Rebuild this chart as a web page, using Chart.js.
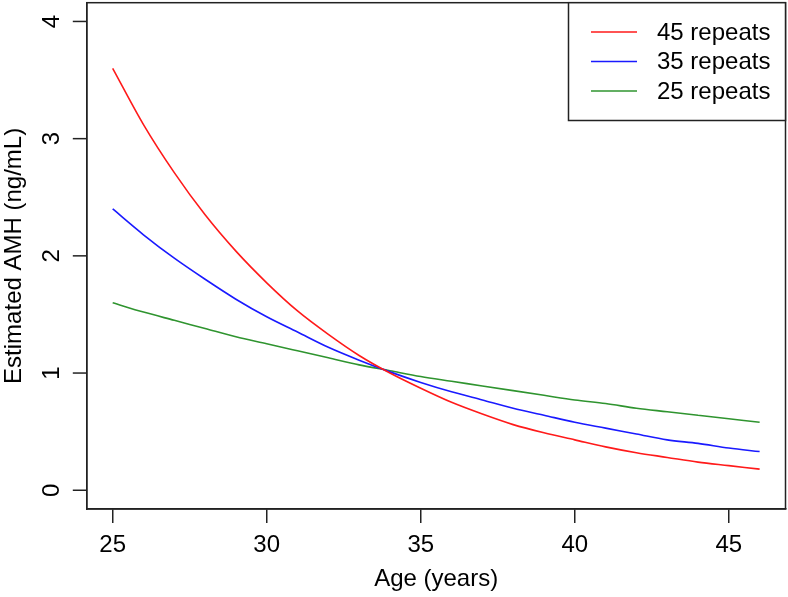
<!DOCTYPE html>
<html>
<head>
<meta charset="utf-8">
<script src="https://cdn.jsdelivr.net/npm/chart.js@4/dist/chart.umd.min.js"></script>
<style>
  html, body { margin: 0; padding: 0; background: #fff; }
  #wrap { width: 788px; height: 597px; }
</style>
</head>
<body>
<div id="wrap"><canvas id="c" width="788" height="597"></canvas></div>
<script>
// Ages (years)
const ages = [25,26,27,28,29,30,31,32,33,34,35,36,37,38,39,40,41,42,43,44,45,46];
// Estimated AMH (ng/mL)
const repeats45 = [3.60,3.12,2.71,2.35,2.04,1.77,1.53,1.33,1.15,1.00,0.87,0.75,0.65,0.56,0.49,0.43,0.37,0.32,0.28,0.24,0.21,0.18];
const repeats35 = [2.40,2.18,1.98,1.80,1.63,1.48,1.35,1.22,1.11,1.01,0.92,0.84,0.77,0.70,0.64,0.58,0.53,0.48,0.43,0.40,0.36,0.33];
const repeats25 = [1.60,1.52,1.45,1.38,1.31,1.25,1.19,1.13,1.07,1.02,0.97,0.93,0.89,0.85,0.81,0.77,0.74,0.70,0.67,0.64,0.61,0.58];
const seriesLabels = ['45 repeats','35 repeats','25 repeats'];
const xTicks = [25,30,35,40,45];
const yTicks = [0,1,2,3,4];

const FONT = 'Liberation Sans, Arial, sans-serif';
const FS = 24;
const AXIS = '#222';

function pts(vals){ return ages.map((a,i)=>({x:a,y:vals[i]})); }

const rPlugin = {
  id: 'rstyle',
  afterDraw(chart){
    const ctx = chart.ctx, ca = chart.chartArea, ys = chart.scales.y;
    ctx.save();
    // box
    ctx.strokeStyle = AXIS; ctx.lineWidth = 1.5;
    ctx.strokeRect(ca.left, ca.top, ca.right-ca.left, ca.bottom-ca.top);
    // y ticks and rotated labels
    ctx.fillStyle = '#000';
    ctx.font = FS + 'px ' + FONT;
    ctx.textAlign = 'center'; ctx.textBaseline = 'middle';
    yTicks.forEach(v=>{
      const py = ys.getPixelForValue(v);
      ctx.beginPath(); ctx.moveTo(ca.left-14, py); ctx.lineTo(ca.left, py); ctx.stroke();
      ctx.save(); ctx.translate(52, py); ctx.rotate(-Math.PI/2);
      ctx.fillText(String(v), 0, 0); ctx.restore();
    });
    // y title
    ctx.save(); ctx.translate(14, (ca.top+ca.bottom)/2); ctx.rotate(-Math.PI/2);
    ctx.fillText('Estimated AMH (ng/mL)', 0, 0); ctx.restore();
    // x title
    ctx.fillText('Age (years)', (ca.left+ca.right)/2, 579);
    // legend
    const lx0 = 568.5, ly0 = ca.top, lx1 = ca.right, ly1 = 120.5;
    ctx.fillStyle = '#fff';
    ctx.fillRect(lx0, ly0, lx1-lx0, ly1-ly0);
    ctx.strokeRect(lx0, ly0, lx1-lx0, ly1-ly0);
    ctx.textAlign = 'left';
    chart.data.datasets.forEach((ds,i)=>{
      const y = 32 + i*29.5;
      ctx.strokeStyle = ds.borderColor; ctx.lineWidth = 1.6;
      ctx.beginPath(); ctx.moveTo(591, y); ctx.lineTo(637, y); ctx.stroke();
      ctx.fillStyle = '#000';
      ctx.fillText(ds.label, 657, y + 1);
    });
    ctx.restore();
  }
};

new Chart(document.getElementById('c'), {
  type: 'line',
  data: {
    datasets: [
      { label: seriesLabels[0], data: pts(repeats45), borderColor: '#ff1a1a', borderWidth: 1.6, pointRadius: 0, cubicInterpolationMode: 'monotone' },
      { label: seriesLabels[1], data: pts(repeats35), borderColor: '#1a1aff', borderWidth: 1.6, pointRadius: 0, cubicInterpolationMode: 'monotone' },
      { label: seriesLabels[2], data: pts(repeats25), borderColor: '#2f942f', borderWidth: 1.6, pointRadius: 0, cubicInterpolationMode: 'monotone' }
    ]
  },
  options: {
    responsive: false,
    animation: false,
    devicePixelRatio: 1,
    layout: { padding: { top: 2.7, right: 2.5, left: 0, bottom: 0 } },
    plugins: { legend: { display: false }, tooltip: { enabled: false } },
    scales: {
      x: {
        type: 'linear', min: 24.16, max: 46.84,
        afterBuildTicks: s => { s.ticks = xTicks.map(v=>({value:v})); },
        afterFit: s => { s.height = 88; },
        grid: { drawOnChartArea: false, drawTicks: true, tickLength: 14, color: AXIS, lineWidth: 1.5 },
        border: { display: true, color: AXIS, width: 1.5 },
        ticks: { color: '#000', font: { size: FS, family: FONT }, padding: 8, maxRotation: 0, minRotation: 0 }
      },
      y: {
        type: 'linear', min: -0.16, max: 4.16,
        afterBuildTicks: s => { s.ticks = yTicks.map(v=>({value:v})); },
        afterFit: s => { s.width = 86.8; },
        grid: { display: false },
        border: { display: true, color: AXIS, width: 1.5 },
        ticks: { display: false }
      }
    }
  },
  plugins: [rPlugin]
});
</script>
</body>
</html>
